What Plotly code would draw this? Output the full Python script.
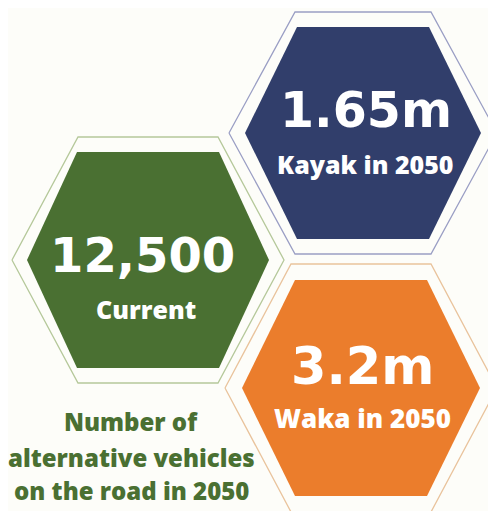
import plotly.graph_objects as go

# Content
big_values = ["12,500", "1.65m", "3.2m"]
sub_labels = ["Current", "Kayak in 2050", "Waka in 2050"]
caption_lines = ["Number of", "alternative vehicles", "on the road in 2050"]

fill_colors = ["#4A7032", "#313E6B", "#EB7D2C"]
line_colors = ["#B5C89A", "#9A9EC4", "#E9C39C"]

# Layout geometry (window pixel space)
centers = [(148, 260), (363, 133), (361, 388)]
inner = [(121, 108, 71), (118, 106, 66), (119, 108, 66)]   # half-width, half-height, top half-edge
outer = [(136, 123, 70), (134, 121, 68), (136, 124, 70)]

W, H = 496, 511
PAD = 8  # default page body margin
BG = "#FDFDF9"

def hexagon(cx, cy, hw, hh, te):
    xs = [cx - hw, cx - te, cx + te, cx + hw, cx + te, cx - te, cx - hw]
    ys = [cy, cy - hh, cy - hh, cy, cy + hh, cy + hh, cy]
    return xs, ys

fig = go.Figure()
for i in range(3):
    cx, cy = centers[i]
    xs, ys = hexagon(cx, cy, *outer[i])
    fig.add_trace(go.Scatter(x=xs, y=ys, mode="lines", fill="toself",
                             fillcolor=BG, line=dict(color=line_colors[i], width=1.3),
                             hoverinfo="skip", showlegend=False))
    xs, ys = hexagon(cx, cy, *inner[i])
    fig.add_trace(go.Scatter(x=xs, y=ys, mode="lines", fill="toself",
                             fillcolor=fill_colors[i], line=dict(color=fill_colors[i], width=0),
                             hoverinfo="skip", showlegend=False))

BIG_FONT = "DejaVu Sans"
SUB_FONT = "Open Sans"

big_sizes = [48, 49, 51]
big_pos = [(142, 255), (366, 110), (363, 366)]   # text centre (cap middle)
sub_sizes = [25, 25, 26]
sub_pos = [(146, 309), (365, 164), (362, 418)]

for i in range(3):
    x, y = big_pos[i]
    fig.add_annotation(x=x, y=y, text=big_values[i], showarrow=False,
                       font=dict(family=BIG_FONT, size=big_sizes[i], color="white", weight="bold"),
                       xanchor="center", yanchor="middle")
    x, y = sub_pos[i]
    fig.add_annotation(x=x, y=y, text=sub_labels[i], showarrow=False,
                       font=dict(family=SUB_FONT, size=sub_sizes[i], color="white", weight=800),
                       xanchor="center", yanchor="middle")

cap_size = 24
cap_y = [421, 457, 490]
for t, y in zip(caption_lines, cap_y):
    fig.add_annotation(x=131, y=y, text=t, showarrow=False,
                       font=dict(family=SUB_FONT, size=cap_size, color="#4A7032", weight=800),
                       xanchor="center", yanchor="middle")

fig.update_layout(
    width=W - PAD, height=H - PAD, margin=dict(l=0, r=0, t=0, b=0),
    paper_bgcolor=BG, plot_bgcolor=BG,
    xaxis=dict(range=[PAD, W], visible=False, fixedrange=True),
    yaxis=dict(range=[H, PAD], visible=False, fixedrange=True),
)
fig.write_html("out.html")
